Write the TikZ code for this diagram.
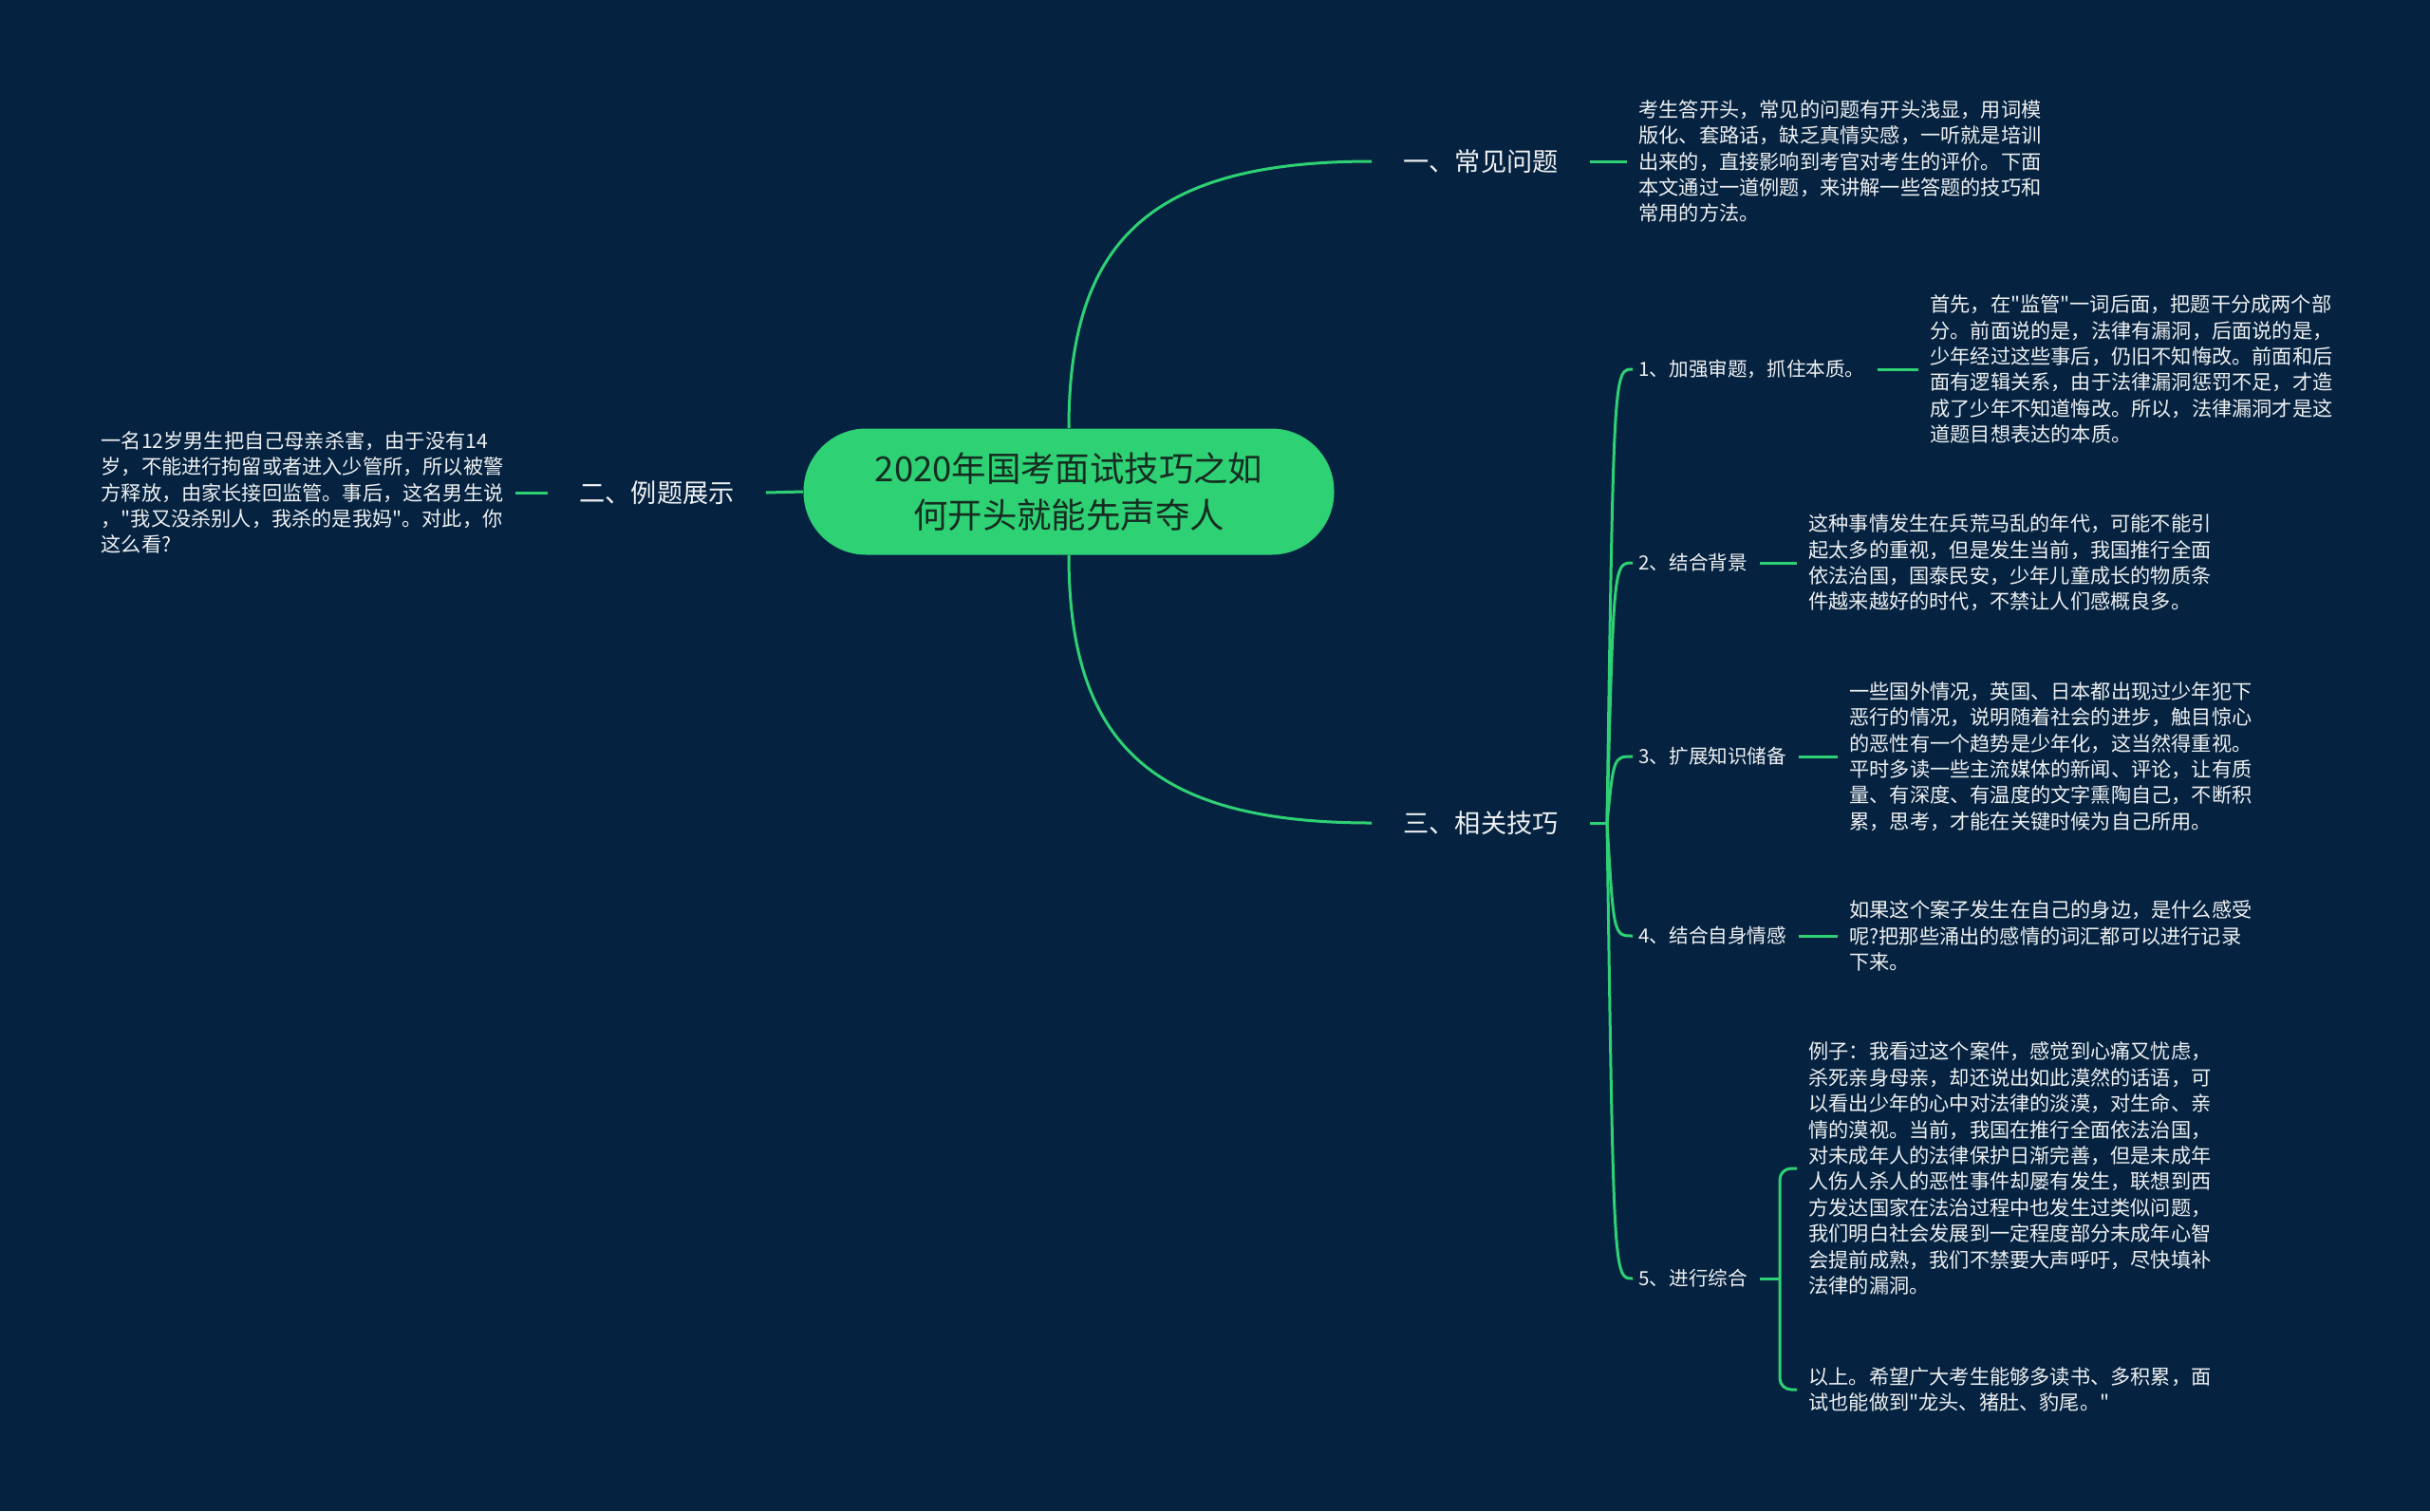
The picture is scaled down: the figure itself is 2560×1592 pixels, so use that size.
\documentclass[tikz,border=0pt]{standalone}
\usepackage{fontspec}
\setmainfont{Noto Sans CJK SC}[Ligatures=TeXOff]
\definecolor{bg}{RGB}{5,35,64}
\definecolor{grn}{RGB}{46,209,116}
\definecolor{roottxt}{RGB}{22,44,33}
\definecolor{txt}{RGB}{238,240,242}
\begin{document}
\begin{tikzpicture}[x=0.5pt,y=-0.5pt,
  conn/.style={draw=grn,line width=1.5pt},
  rootbox/.style={fill=grn,rounded corners=33pt,minimum width=279.5pt,minimum height=66.5pt,align=center,text=roottxt,font=\fontsize{18.2}{24.5}\selectfont,inner sep=0pt},
  branch/.style={text=txt,font=\fontsize{13.6}{16}\selectfont,inner xsep=16.5pt,inner ysep=2pt},
  item/.style={text=txt,font=\fontsize{10.3}{13.7}\selectfont,inner xsep=3pt,inner ysep=2pt},
  desc/.style={text=txt,font=\fontsize{10.6}{13.7}\selectfont,align=left,inner xsep=6pt,inner ysep=2pt},
]
\fill[bg] (0,0) rectangle (2560,1592);
\useasboundingbox (0,0) rectangle (2560,1592);

\node[rootbox] (root) at (1126,518) {2020年国考面试技巧之如\\何开头就能先声夺人};

\node[branch,anchor=west] (b1) at (1445,170) {一、常见问题};
\node[branch,anchor=east] (b2) at (807,519) {二、例题展示};
\node[branch,anchor=west] (b3) at (1445,867) {三、相关技巧};

\node[desc,anchor=west] (D1) at (1714,170) {考生答开头，常见的问题有开头浅显，用词模\\版化、套路话，缺乏真情实感，一听就是培训\\出来的，直接影响到考官对考生的评价。下面\\本文通过一道例题，来讲解一些答题的技巧和\\常用的方法。};

\node[desc,anchor=east] (L) at (543,519) {一名12岁男生把自己母亲杀害，由于没有14\\岁，不能进行拘留或者进入少管所，所以被警\\方释放，由家长接回监管。事后，这名男生说\\，"我又没杀别人，我杀的是我妈"。对此，你\\这么看?};

\coordinate (j3) at (1693,867);
\coordinate (j5) at (1875,1347);

\node[item,anchor=west] (i1) at (1720,389) {1、加强审题，抓住本质。};
\node[item,anchor=west] (i2) at (1720,593) {2、结合背景};
\node[item,anchor=west] (i3) at (1720,797) {3、扩展知识储备};
\node[item,anchor=west] (i4) at (1720,986) {4、结合自身情感};
\node[item,anchor=west] (i5) at (1720,1347) {5、进行综合};

\node[desc,anchor=west] (T1) at (2021,389) {首先，在"监管"一词后面，把题干分成两个部\\分。前面说的是，法律有漏洞，后面说的是，\\少年经过这些事后，仍旧不知悔改。前面和后\\面有逻辑关系，由于法律漏洞惩罚不足，才造\\成了少年不知道悔改。所以，法律漏洞才是这\\道题目想表达的本质。};
\node[desc,anchor=west] (T2) at (1893,593) {这种事情发生在兵荒马乱的年代，可能不能引\\起太多的重视，但是发生当前，我国推行全面\\依法治国，国泰民安，少年儿童成长的物质条\\件越来越好的时代，不禁让人们感概良多。};
\node[desc,anchor=west] (T3) at (1936,797) {一些国外情况，英国、日本都出现过少年犯下\\恶行的情况，说明随着社会的进步，触目惊心\\的恶性有一个趋势是少年化，这当然得重视。\\平时多读一些主流媒体的新闻、评论，让有质\\量、有深度、有温度的文字熏陶自己，不断积\\累，思考，才能在关键时候为自己所用。};
\node[desc,anchor=west] (T4) at (1936,986) {如果这个案子发生在自己的身边，是什么感受\\呢?把那些涌出的感情的词汇都可以进行记录\\下来。};
\node[desc,anchor=west] (T5a) at (1893,1231) {例子：我看过这个案件，感觉到心痛又忧虑，\\杀死亲身母亲，却还说出如此漠然的话语，可\\以看出少年的心中对法律的淡漠，对生命、亲\\情的漠视。当前，我国在推行全面依法治国，\\对未成年人的法律保护日渐完善，但是未成年\\人伤人杀人的恶性事件却屡有发生，联想到西\\方发达国家在法治过程中也发生过类似问题，\\我们明白社会发展到一定程度部分未成年心智\\会提前成熟，我们不禁要大声呼吁，尽快填补\\法律的漏洞。};
\node[desc,anchor=west] (T5b) at (1893,1464) {以上。希望广大考生能够多读书、多积累，面\\试也能做到"龙头、猪肚、豹尾。"};

% main branches
\draw[conn] (root.north) .. controls +(0,-200) and +(-230,0) .. (b1.west);
\draw[conn] (root.south) .. controls +(0,200) and +(-230,0) .. (b3.west);
\draw[conn] (root.west) -- (b2.east);
\draw[conn] (b2.west) -- (L.east);
\draw[conn] (b1.east) -- (D1.west);
\draw[conn] (b3.east) -- (j3);

% sub branches
\foreach \n in {i1,i2,i3,i4,i5}{
  \draw[conn] (j3) .. controls ([xshift=3.5pt]j3 |- \n.west) and ([xshift=3.5pt]j3 |- \n.west) .. (\n.west);
}
\draw[conn,shorten <=3.5pt] (i1.east) -- (T1.west);
\draw[conn,shorten <=3.5pt] (i2.east) -- (T2.west);
\draw[conn,shorten <=3.5pt] (i3.east) -- (T3.west);
\draw[conn,shorten <=3.5pt] (i4.east) -- (T4.west);
\draw[conn,shorten <=3.5pt] (i5.east) -- (j5);
\draw[conn,rounded corners=6pt] (j5) |- (T5a.west);
\draw[conn,rounded corners=6pt] (j5) |- (T5b.west);
\end{tikzpicture}
\end{document}
